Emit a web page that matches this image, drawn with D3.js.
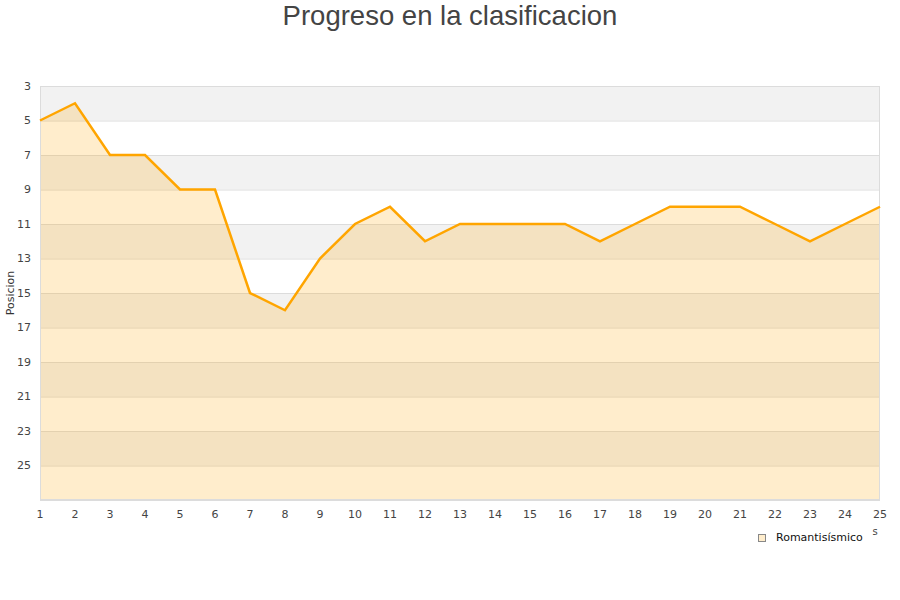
<!DOCTYPE html>
<html><head><meta charset="utf-8">
<script src="https://cdn.jsdelivr.net/npm/d3@7"></script>
<style>body{margin:0;background:#fff}svg{display:block;font-family:"DejaVu Sans",sans-serif}</style>
</head><body><svg id="c" width="900" height="600"></svg>
<script>
const jornadas = [1,2,3,4,5,6,7,8,9,10,11,12,13,14,15,16,17,18,19,20,21,22,23,24,25];
const posiciones = [5,4,7,7,9,9,15,16,13,11,10,12,11,11,11,11,12,11,10,10,10,11,12,11,10];
const yTicks = [3,5,7,9,11,13,15,17,19,21,23,25];
const seriesName = "Romantisísmico";
const title = "Progreso en la clasificacion";
const yTitle = "Posicion";

const svg = d3.select("#c");
const m = {l:40, r:880, t:86, b:500};
const x = d3.scaleLinear().domain([1,25]).range([m.l, m.r]);
const y = d3.scaleLinear().domain([3,27]).range([m.t, m.b]);

// bands
const bands = d3.range(3, 27, 2);
svg.selectAll("rect.band").data(bands).enter().append("rect")
  .attr("x", m.l).attr("width", m.r-m.l)
  .attr("y", d=>y(d)).attr("height", d=>y(d+2)-y(d))
  .attr("fill", (d,i)=> i%2===0 ? "#f2f2f2" : "#ffffff");

// gridlines
svg.selectAll("line.grid").data(yTicks.concat([27])).enter().append("line")
  .attr("x1", m.l).attr("x2", m.r).attr("y1", d=>y(d)+0.5).attr("y2", d=>y(d)+0.5)
  .attr("stroke", "#dcdcdc").attr("stroke-width", 1);

const data = jornadas.map((j,i)=>({j, p:posiciones[i]}));
// area
svg.append("path").datum(data)
  .attr("d", d3.area().x(d=>x(d.j)).y0(y(27)).y1(d=>y(d.p)))
  .attr("fill", "rgba(255,165,0,0.2)");

// border
svg.append("rect").attr("x", m.l+0.5).attr("y", m.t+0.5).attr("width", m.r-m.l-1).attr("height", m.b-m.t-1)
  .attr("fill","none").attr("stroke","#dcdcdc");

// line
svg.append("path").datum(data)
  .attr("d", d3.line().x(d=>x(d.j)).y(d=>y(d.p)))
  .attr("fill","none").attr("stroke","#ffa500").attr("stroke-width",2.5).attr("stroke-linejoin","miter");

// y tick labels
svg.selectAll("text.yt").data(yTicks).enter().append("text")
  .attr("x", 31).attr("y", d=>y(d)).attr("dy","0.35em").attr("text-anchor","end")
  .attr("font-size", 11).attr("fill","#444").text(d=>d);

// x tick labels
svg.selectAll("text.xt").data(jornadas).enter().append("text")
  .attr("x", d=>x(d)).attr("y", 518).attr("text-anchor","middle")
  .attr("font-size", 11).attr("fill","#444").text(d=>d);

// title
svg.append("text").attr("x", 450).attr("y", 25).attr("text-anchor","middle")
  .attr("font-size", 27.5).attr("fill","#444").attr("font-family","'Liberation Sans',Arial,sans-serif").text(title);

// y title
svg.append("text").attr("transform","translate(14,293) rotate(-90)").attr("text-anchor","middle")
  .attr("font-size", 11).attr("fill","#333").text(yTitle);

// clipped x title remnant
svg.append("text").attr("x", 875).attr("y", 535).attr("text-anchor","middle")
  .attr("font-size", 10).attr("fill","#444").text("s");

// legend
svg.append("rect").attr("x", 758.5).attr("y", 534.5).attr("width", 7).attr("height", 7)
  .attr("fill","#ffedcc").attr("stroke","#888").attr("stroke-width",1);
svg.append("text").attr("x", 776).attr("y", 541).attr("font-size", 11).attr("fill","#111").text(seriesName);
</script></body></html>
